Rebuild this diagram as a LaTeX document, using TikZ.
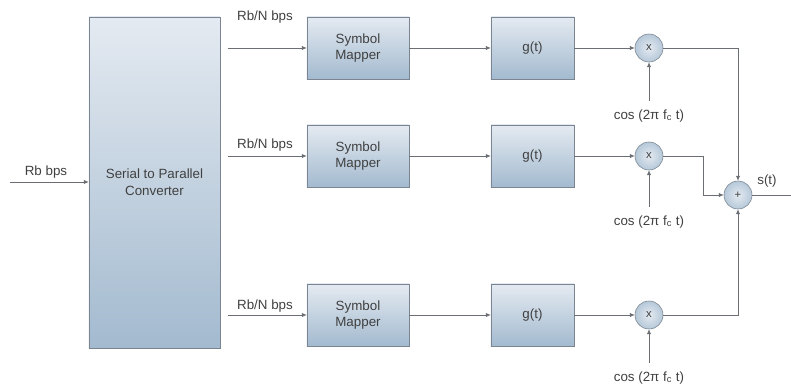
\documentclass[tikz,border=0pt]{standalone}
\usepackage{fontspec}
\setmainfont{Liberation Sans}
\usetikzlibrary{arrows.meta}
\definecolor{boxtop}{HTML}{E4EAF1}
\definecolor{boxbot}{HTML}{A3BACF}
\definecolor{edge}{HTML}{7A8591}
\definecolor{wire}{HTML}{6B6F74}
\tikzset{
  blk/.style={draw=edge, top color=boxtop, bottom color=boxbot, align=center, inner sep=0pt, text=black!75, font=\fontsize{9.5}{12}\selectfont},
  mult/.style={circle, draw=edge, inner color=boxtop, outer color=boxbot!80, minimum size=0.7cm, inner sep=0pt, text=black!75, font=\fontsize{8}{8}\selectfont},
  lbl/.style={font=\fontsize{9.5}{10}\selectfont, text=black!75},
  sig/.style={draw=wire, -{Latex[length=3.5pt,width=3pt]}},
}
\begin{document}
\begin{tikzpicture}[x=0.025cm, y=-0.025cm]
        \useasboundingbox (0,0) rectangle (791,386);
        \node[blk, minimum width=3.275cm, minimum height=8.275cm](sp) at (154.5,182.5) {Serial to Parallel\\Converter};
        \node[blk, minimum width=2.55cm, minimum height=1.55cm](m1) at (358,48) {Symbol\\Mapper};
        \node[blk, minimum width=2.55cm, minimum height=1.55cm](m2) at (358,156) {Symbol\\Mapper};
        \node[blk, minimum width=2.55cm, minimum height=1.55cm](m3) at (358,315) {Symbol\\Mapper};
        \node[blk, minimum width=2.075cm, minimum height=1.55cm](g1) at (532.5,48) {g(t)};
        \node[blk, minimum width=2.075cm, minimum height=1.55cm](g2) at (532.5,156) {g(t)};
        \node[blk, minimum width=2.075cm, minimum height=1.55cm](g3) at (532.5,315) {g(t)};
        \node[mult](x1) at (649,48) {x};
        \node[mult](x2) at (649,156) {x};
        \node[mult](x3) at (649,315) {x};
        \node[mult](sum) at (738,195) {+};
        \node[lbl](c1) at (649,116) {cos (2π f\textsubscript{c} t)};
        \node[lbl](c2) at (649,222) {cos (2π f\textsubscript{c} t)};
        \node[lbl](c3) at (649,378) {cos (2π f\textsubscript{c} t)};
        \node[lbl](r1) at (265,17) {Rb/N bps};
        \node[lbl](r2) at (265,145) {Rb/N bps};
        \node[lbl](r3) at (265,306) {Rb/N bps};
        \node[lbl](rb) at (46,172) {Rb bps};
        \node[lbl](st) at (767,181) {s(t)};
        \coordinate(in) at (10,182);
        \coordinate(out) at (791,195);
        \draw[sig](in)--(sp.west |- in);
        \draw[sig, shorten <=2mm](sp.east |- m1)--(m1);
        \draw[sig, shorten <=2mm](sp.east |- m2)--(m2);
        \draw[sig, shorten <=2mm](sp.east |- m3)--(m3);
        \draw[sig](m1)--(g1);
        \draw[sig](m2)--(g2);
        \draw[sig](m3)--(g3);
        \draw[sig](g1)--(x1);
        \draw[sig](g2)--(x2);
        \draw[sig](g3)--(x3);
        \draw[sig, shorten <=1mm](c1.north)--(x1);
        \draw[sig, shorten <=1mm](c2.north)--(x2);
        \draw[sig, shorten <=1mm](c3.north)--(x3);
        \draw[sig](x1)-|(sum);
        \draw[sig](x2.east)--++(40,0)|-(sum);
        \draw[sig](x3)-|(sum);
        \draw[draw=wire](sum)--(out);
\end{tikzpicture}
\end{document}
